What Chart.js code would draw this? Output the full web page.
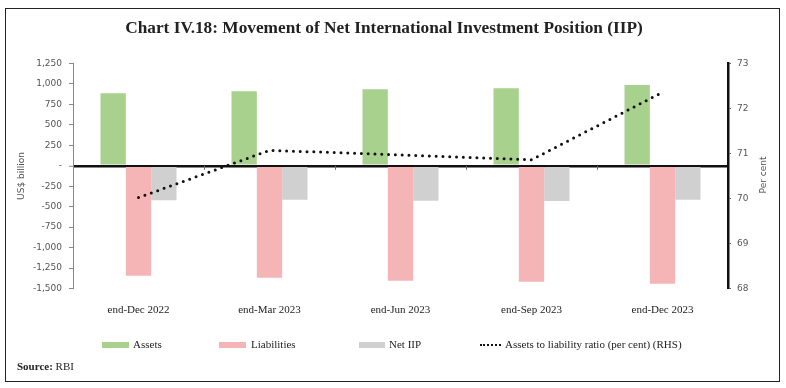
<!DOCTYPE html>
<html>
<head>
<meta charset="utf-8">
<script src="https://cdn.jsdelivr.net/npm/chart.js@4/dist/chart.umd.min.js"></script>
<style>
  html, body { margin: 0; padding: 0; background: #fff; }
  #wrap { position: relative; width: 786px; height: 388px; overflow: hidden; }
  #frame { position: absolute; left: 5px; top: 8px; width: 773px; height: 372px; border: 1px solid #222; }
  #chart { position: absolute; left: 0; top: 0; }
  .title { position: absolute; left: 0; width: 768px; top: 18px; text-align: center;
           font: bold 17.3px "Liberation Serif", serif; color: #222; }
  .lg { position: absolute; top: 338px; font: 11px "Liberation Serif", serif; color: #222; white-space: nowrap; }
  .sw { position: absolute; top: 342px; height: 6px; }
  .dots { position: absolute; top: 344px; width: 21px; height: 0; border-top: 2.5px dotted #111; }
  .src { position: absolute; left: 17px; top: 360px; font: 11px "Liberation Serif", serif; color: #222; }
  .rtitle { position: absolute; left: 743px; top: 170px; width: 40px; text-align: center;
            font: 9px "DejaVu Sans", sans-serif; color: #555; transform: rotate(-90deg); white-space: nowrap; }
</style>
</head>
<body>
<div id="wrap">
  <div id="frame"></div>
  <canvas id="chart" width="786" height="388"></canvas>
  <div class="title">Chart IV.18: Movement of Net International Investment Position (IIP)</div>
  <div class="rtitle">Per cent</div>

  <div class="sw" style="left:102px;width:27px;background:#a9d18e"></div>
  <div class="lg" style="left:133px">Assets</div>
  <div class="sw" style="left:219px;width:27px;background:#f5b5b7"></div>
  <div class="lg" style="left:251px">Liabilities</div>
  <div class="sw" style="left:359px;width:26px;background:#d0d0d0"></div>
  <div class="lg" style="left:389px">Net IIP</div>
  <div class="dots" style="left:480px"></div>
  <div class="lg" style="left:505px">Assets to liability ratio (per cent) (RHS)</div>

  <div class="src"><b>Source:</b> RBI</div>
</div>
<script>
// categories and series (US$ billion, ratio in per cent)
const categories = ['end-Dec 2022', 'end-Mar 2023', 'end-Jun 2023', 'end-Sep 2023', 'end-Dec 2023'];
const assets = [886, 910, 935, 947, 987];
const liabilities = [-1343, -1368, -1405, -1417, -1441];
const netIIP = [-422, -415, -427, -431, -415];
const ratio = [70.02, 71.07, 70.97, 70.86, 72.36];

// axis ticks
const leftTicks = [-1500, -1250, -1000, -750, -500, -250, 0, 250, 500, 750, 1000, 1250];
const rightTicks = [68, 69, 70, 71, 72, 73];

const axisFont = { family: 'DejaVu Sans', size: 9 };

// small marks on the zero line between categories
const boundaryTicks = {
    id: 'boundaryTicks',
    afterDatasetsDraw(chart) {
        const x = chart.scales.x, y = chart.scales.y;
        const y0 = y.getPixelForValue(0);
        const c = chart.ctx;
        c.save();
        c.strokeStyle = '#666';
        c.lineWidth = 1;
        for (let i = 0; i < categories.length - 1; i++) {
            const px = Math.round((x.getPixelForValue(i) + x.getPixelForValue(i + 1)) / 2) + 0.5;
            c.beginPath();
            c.moveTo(px, y0);
            c.lineTo(px, y0 + 4);
            c.stroke();
        }
        c.restore();
    }
};

new Chart(document.getElementById('chart').getContext('2d'), {
    type: 'bar',
    data: {
        labels: categories,
        datasets: [
            {
                type: 'line',
                label: 'Assets to liability ratio (per cent) (RHS)',
                data: ratio,
                yAxisID: 'y1',
                borderColor: '#111',
                borderWidth: 3,
                borderDash: [0, 6.8],
                borderCapStyle: 'round',
                pointRadius: 0,
                tension: 0,
                fill: false,
                order: 0
            },
            { label: 'Assets', data: assets, backgroundColor: '#a9d18e', yAxisID: 'y', order: 1 },
            { label: 'Liabilities', data: liabilities, backgroundColor: '#f5b5b7', yAxisID: 'y', order: 1 },
            { label: 'Net IIP', data: netIIP, backgroundColor: '#d0d0d0', yAxisID: 'y', order: 1 }
        ]
    },
    options: {
        responsive: false,
        animation: false,
        datasets: { bar: { categoryPercentage: 0.58, barPercentage: 1.0 } },
        layout: { padding: { top: 63.5, left: 0, right: 0, bottom: 0 } },
        plugins: { legend: { display: false }, tooltip: { enabled: false } },
        scales: {
            x: {
                grid: { display: false },
                border: { display: false },
                ticks: { color: '#222', padding: 7, maxRotation: 0, font: { family: 'Liberation Serif', size: 11 } },
                afterFit(s) { s.height = 99.5; }
            },
            y: {
                position: 'left',
                min: -1500,
                max: 1250,
                afterBuildTicks(s) { s.ticks = leftTicks.map(v => ({ value: v })); },
                ticks: {
                    color: '#555',
                    padding: 7,
                    font: axisFont,
                    callback: v => v === 0 ? '-' : v.toLocaleString('en-US')
                },
                grid: {
                    drawOnChartArea: true,
                    color: c => c.tick && c.tick.value === 0 ? '#111' : 'rgba(0,0,0,0)',
                    lineWidth: c => c.tick && c.tick.value === 0 ? 2.5 : 1,
                    tickColor: '#888',
                    tickWidth: 1,
                    tickLength: 4
                },
                border: { display: true, color: '#888', width: 1 },
                title: { display: true, text: 'US$ billion', color: '#555', font: { family: 'DejaVu Sans', size: 9 }, padding: { top: 16, bottom: 0 } },
                afterFit(s) { s.width = 73; }
            },
            y1: {
                position: 'right',
                min: 68,
                max: 73,
                afterBuildTicks(s) { s.ticks = rightTicks.map(v => ({ value: v })); },
                ticks: { color: '#555', padding: 6, font: axisFont },
                grid: { drawOnChartArea: false, tickColor: '#666', tickLength: 3 },
                border: { display: true, color: '#111', width: 2.5 },
                afterFit(s) { s.width = 58; }
            }
        }
    },
    plugins: [boundaryTicks]
});
</script>
</body>
</html>
